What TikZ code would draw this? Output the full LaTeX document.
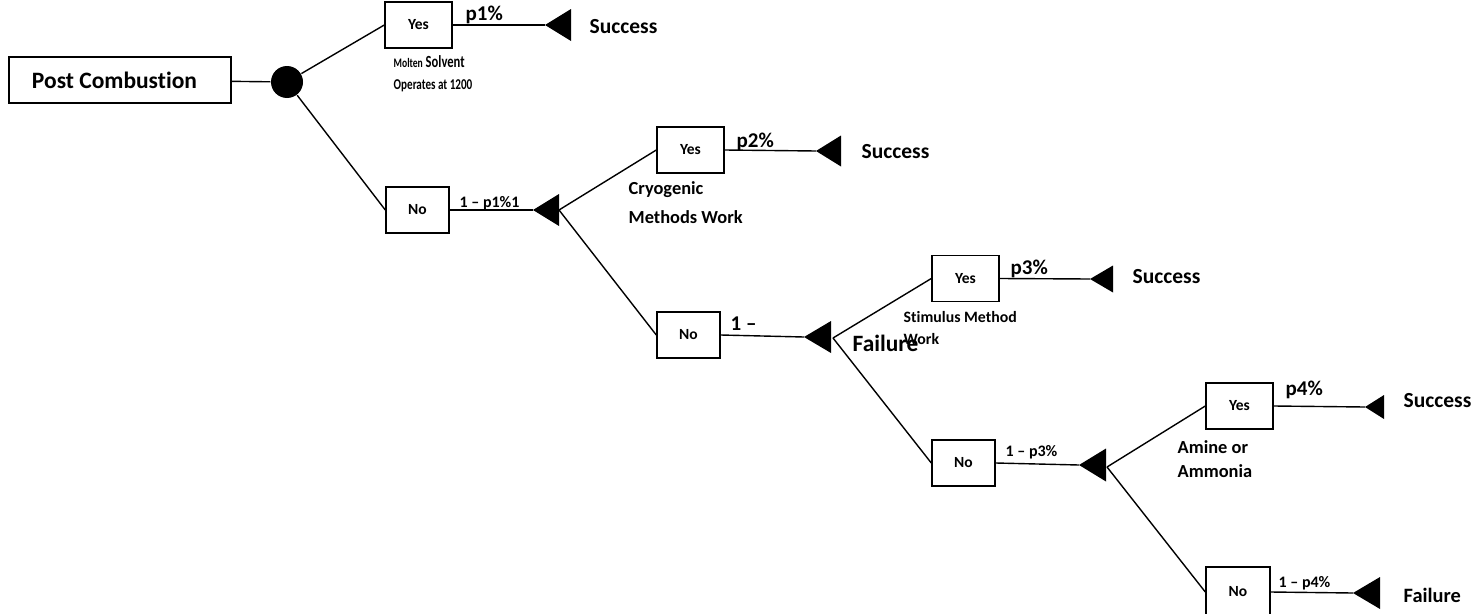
\documentclass[tikz,border=0pt]{standalone}
\usepackage{fontspec}
\setmainfont{Carlito}[Ligatures=NoCommon]
\newfontfamily\narrowfont{Carlito}[FakeStretch=0.74,Ligatures=NoCommon]

\begin{document}
\begin{tikzpicture}[x=1pt,y=-1pt,line width=1.4pt,
	box/.style={draw,line width=1.4pt,minimum width=67pt,minimum height=46pt,inner sep=0pt,font=\bfseries\fontsize{15.5}{18}\selectfont},
	dot/.style={circle,fill,inner sep=0pt,minimum size=32pt},
	note/.style={inner sep=0pt,anchor=west,font=\bfseries\fontsize{18.4}{22}\selectfont},
	prob/.style={inner sep=0pt,anchor=base west,font=\bfseries\fontsize{21}{25}\selectfont},
	comp/.style={inner sep=0pt,anchor=base west,font=\bfseries\fontsize{16}{19}\selectfont},
	outcome/.style={inner sep=0pt,anchor=west,font=\bfseries\fontsize{21.5}{26}\selectfont}]
	\useasboundingbox (0,0) rectangle (1477,613);
	\clip (0,0) rectangle (1477,613);
	% root
	\node[draw,line width=1.4pt,minimum width=222pt,minimum height=46pt,inner sep=0pt,font=\bfseries\fontsize{23.5}{28}\selectfont] (pc) at (120,80) {\hspace*{-11pt}Post Combustion};
	\node[dot] (d0) at (287,82) {};
	\draw (pc) -- (d0);
	% first split
	\node[box] (y1) at (418.5,25) {Yes};
	\node[box,minimum width=63pt] (n1) at (417.5,210) {No};
	\draw (d0) -- (y1.west) (d0) -- (n1.west);
	\coordinate (t1) at (545,25);
	\coordinate (t2) at (533,210);
	\fill (t1) -- ++(26,-16) -- ++(0,32) -- cycle;
	\fill (t2) -- ++(26,-16) -- ++(0,32) -- cycle;
	\draw (y1.east) -- (t1) (n1.east) -- (t2);
	\node[prob] (p1) at (465,20) {p1\%};
	\node[comp] (q1) at (459,207.5) {1 – p1\%1};
	\node[outcome] (s1) at (589,27) {Success};
	\node[note,font=\narrowfont\bfseries\fontsize{17}{20}\selectfont] (m1) at (393,62) {{\fontsize{13}{16}\selectfont Molten} Solvent};
	\node[note,font=\narrowfont\bfseries\fontsize{15}{18}\selectfont] (m2) at (393,86) {Operates at 1200};
	% second split
	\coordinate (b2) at (559,210);
	\node[box] (y2) at (690.5,150) {Yes};
	\node[box,minimum width=63pt] (n2) at (688.5,335) {No};
	\draw (b2) -- (y2.west) (b2) -- (n2.west);
	\coordinate (t3) at (816,151);
	\coordinate (t4) at (804,337);
	\fill (t3) -- ++(25,-15.5) -- ++(0,31) -- cycle;
	\fill (t4) -- ++(27,-16) -- ++(0,32) -- cycle;
	\draw (y2.east) -- (t3) (n2.east) -- (t4);
	\node[prob] (p2) at (736,147) {p2\%};
	\node[comp,font=\bfseries\fontsize{21}{25}\selectfont] (q2) at (730,330) {1 –};
	\node[outcome] (s2) at (861,152) {Success};
	\node[outcome,font=\bfseries\fontsize{23.4}{28}\selectfont] (f2) at (852,343) {Failure};
	\node[note] (c1) at (628,190) {Cryogenic};
	\node[note] (c2) at (628,217) {Methods Work};
	% third split
	\coordinate (b4) at (833,338);
	\node[box] (y3) at (965.5,278.5) {Yes};
	\node[box,minimum width=63pt] (n3) at (963.5,463) {No};
	\draw (b4) -- (y3.west) (b4) -- (n3.west);
	\coordinate (t5) at (1090,279);
	\coordinate (t6) at (1079,465);
	\fill (t5) -- ++(23,-13.5) -- ++(0,27) -- cycle;
	\fill (t6) -- ++(27,-16.5) -- ++(0,33) -- cycle;
	\draw (y3.east) -- (t5) (n3.east) -- (t6);
	\node[prob] (p3) at (1010,274) {p3\%};
	\node[comp] (q3) at (1005,456) {1 – p3\%};
	\node[outcome] (s3) at (1132,277) {Success};
	\node[note,font=\bfseries\fontsize{15.8}{19}\selectfont] (r1) at (903,317) {Stimulus Method};
	\node[note,font=\bfseries\fontsize{15.8}{19}\selectfont] (r2) at (903,339) {Work};
	% fourth split
	\coordinate (b6) at (1107,467);
	\node[box] (y4) at (1239.5,406) {Yes};
	\node[box,minimum width=64pt,minimum height=50pt] (n4) at (1238,592) {No};
	\draw (b6) -- (y4.west) (b6) -- (n4.west);
	\coordinate (t7) at (1365,407);
	\coordinate (t8) at (1353,593);
	\fill (t7) -- ++(19,-12) -- ++(0,24) -- cycle;
	\fill (t8) -- ++(27,-16) -- ++(0,32) -- cycle;
	\draw (y4.east) -- (t7) (n4.east) -- (t8);
	\node[prob] (p4) at (1285,395) {p4\%};
	\node[comp] (q4) at (1278,587) {1 – p4\%};
	\node[outcome] (s4) at (1403,401) {Success};
	\node[outcome,font=\bfseries\fontsize{20.4}{24}\selectfont] (f4) at (1403,595) {Failure};
	\node[note] (a1) at (1177,447) {Amine or};
	\node[note] (a2) at (1177,471) {Ammonia};
\end{tikzpicture}
\end{document}
